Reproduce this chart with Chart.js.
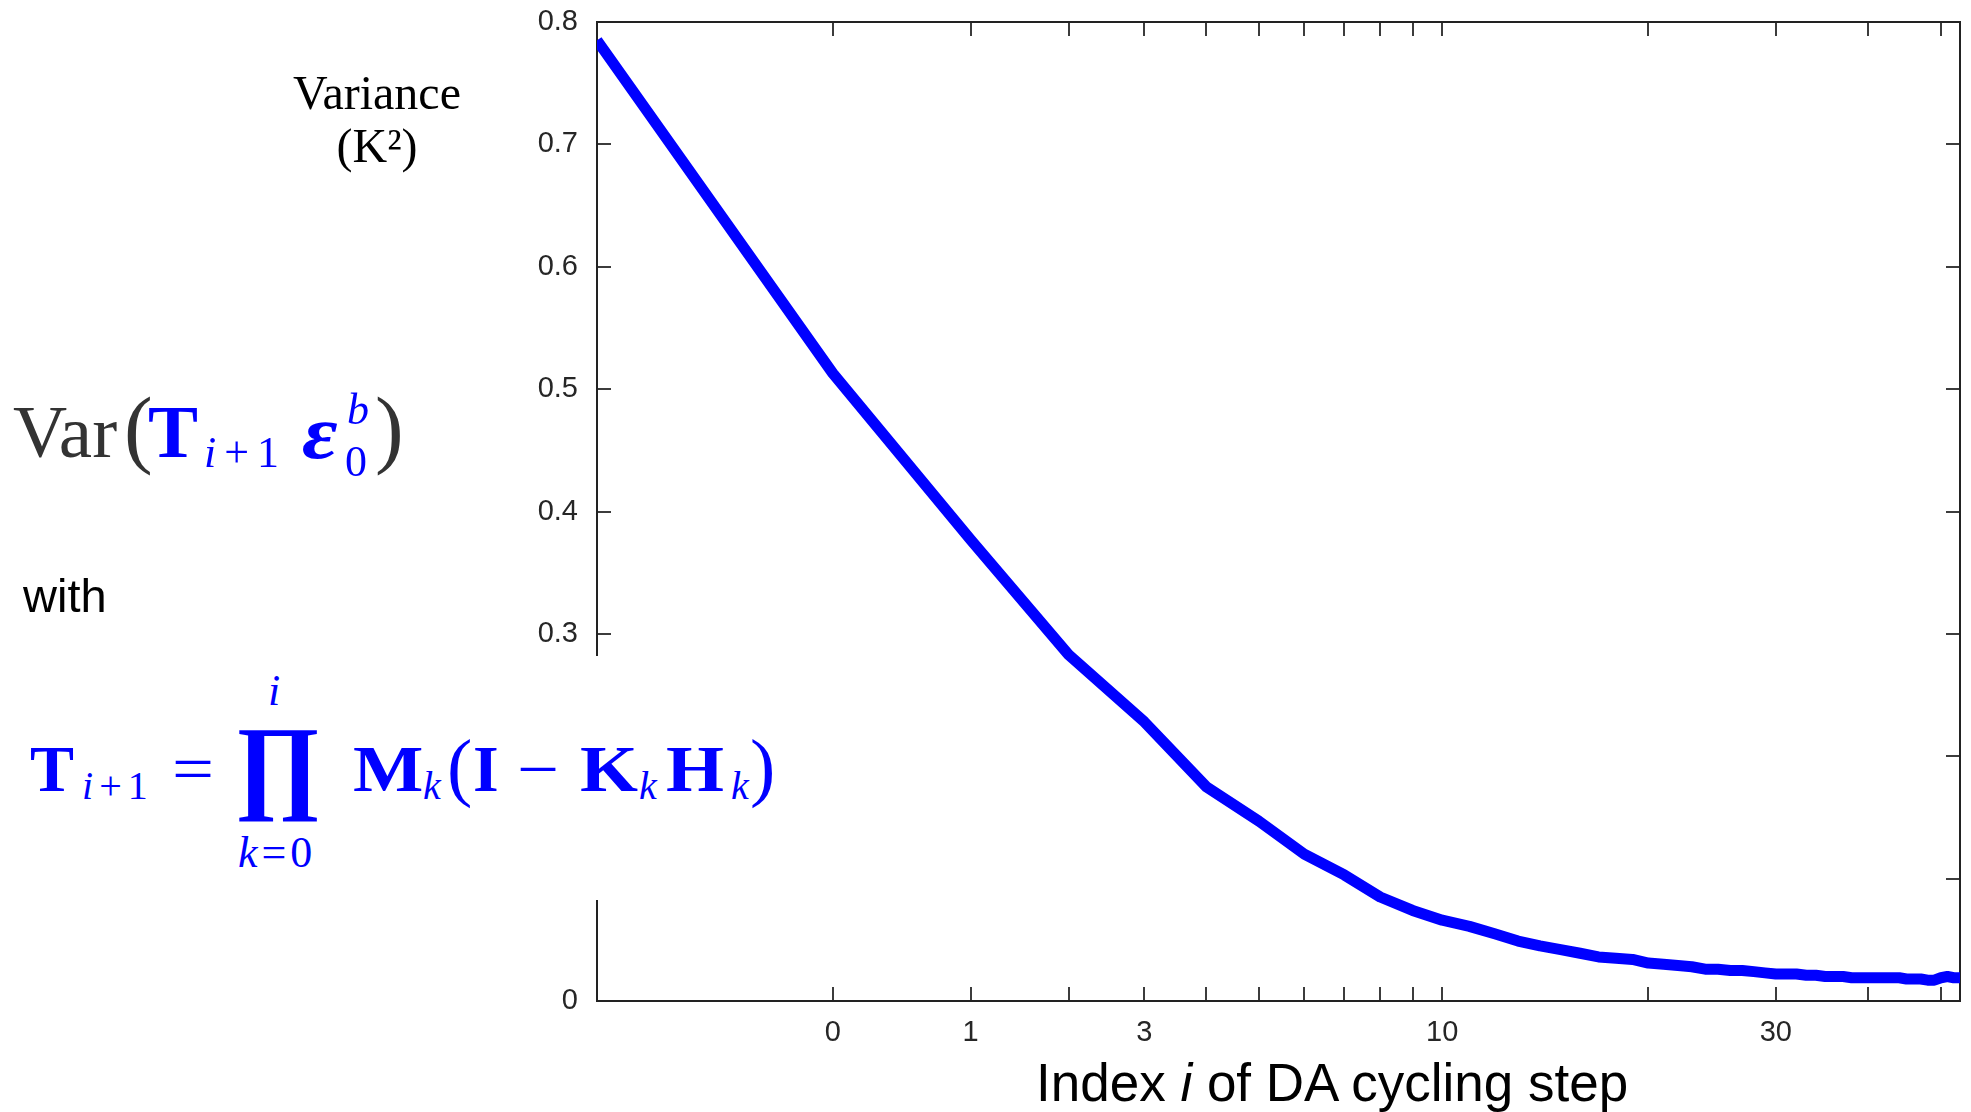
<!DOCTYPE html>
<html>
<head>
<meta charset="utf-8">
<script src="https://cdn.jsdelivr.net/npm/chart.js@4.4.1/dist/chart.umd.min.js"></script>
<style>
  body { margin: 0; background: #fff; }
  #wrap { position: relative; width: 1971px; height: 1112px; overflow: hidden; }
  .txt { position: absolute; white-space: nowrap; line-height: 1; }
  .serif { font-family: 'Liberation Serif', 'Times New Roman', serif; }
  .sans { font-family: 'Liberation Sans', Arial, sans-serif; }
  /* a formula line: the box sits on its baseline, pieces are placed from it */
  .eq { position: absolute; left: 0; height: 0; width: 0; font-family: 'Liberation Serif', 'Times New Roman', serif; }
  .eq span { position: absolute; white-space: nowrap; line-height: 1; }
  .wide { transform: scaleX(1.13); transform-origin: left center; }
  .blue { color: #0000ff; }
  .gray { color: #333; }
  #mask { position: absolute; left: 0; top: 656px; width: 775px; height: 244px; background: #fff; }
</style>
</head>
<body>
<div id="wrap">
  <canvas id="chart"></canvas>

  <div class="txt serif" style="left:277px; top:66px; width:200px; text-align:center; font-size:48px; line-height:53px;">Variance<br>(K²)</div>

  <!-- Var(T_{i+1} eps_0^b), baseline y = 457 -->
  <div class="eq" style="top:457px;">
    <span class="gray" style="left:13px; top:-63px; font-size:75px;">Var</span>
    <span class="gray" style="left:124px; top:-72px; font-size:86px;">(</span>
    <span class="blue" style="left:148px; top:-63px; font-size:75px; font-weight:bold;">T</span>
    <span class="blue" style="left:204px; top:-26px; font-size:44px;"><i>i</i><span style="position:static; padding:0 8px;">+</span>1</span>
    <span class="blue wide" style="left:302px; top:-63px; font-size:77px; font-weight:bold; font-style:italic;">ε</span>
    <span class="blue" style="left:347px; top:-69px; font-size:44px; font-style:italic;">b</span>
    <span class="blue" style="left:345px; top:-17px; font-size:44px;">0</span>
    <span class="gray" style="left:375px; top:-72px; font-size:86px;">)</span>
  </div>

  <div class="txt sans" style="left:23px; top:572px; font-size:47px;">with</div>

  <div id="mask"></div>
  <!-- T_{i+1} = prod_{k=0}^{i} M_k (I - K_k H_k), baseline y = 791 -->
  <div class="eq blue" style="top:791px;">
    <span style="left:30px; top:-55px; font-size:66px; font-weight:bold;">T</span>
    <span style="left:82px; top:-25px; font-size:40px;"><i>i</i><span style="position:static; padding:0 6px;">+</span>1</span>
    <span class="wide" style="left:172px; top:-55px; font-size:66px;">=</span>
    <span style="left:268px; top:-122px; font-size:44px; font-style:italic;">i</span>
    <span style="left:235px; top:-80px; font-size:105px; font-weight:bold;">∏</span>
    <span style="left:238px; top:40px; font-size:44px;"><i>k</i><span style="position:static; padding:0 4px;">=</span>0</span>
    <span class="wide" style="left:353px; top:-55px; font-size:66px; font-weight:bold;">M</span>
    <span style="left:423px; top:-25px; font-size:40px; font-style:italic;">k</span>
    <span style="left:447px; top:-63px; font-size:76px;">(</span>
    <span style="left:473px; top:-55px; font-size:66px; font-weight:bold;">I</span>
    <span class="wide" style="left:517px; top:-55px; font-size:66px;">−</span>
    <span class="wide" style="left:580px; top:-55px; font-size:66px; font-weight:bold;">K</span>
    <span style="left:639px; top:-25px; font-size:40px; font-style:italic;">k</span>
    <span class="wide" style="left:666px; top:-55px; font-size:66px; font-weight:bold;">H</span>
    <span style="left:731px; top:-25px; font-size:40px; font-style:italic;">k</span>
    <span style="left:750px; top:-63px; font-size:76px;">)</span>
  </div>

  <div class="txt sans" style="left:1036px; top:1056px; font-size:53px; color:#000;">Index <i>i</i> of DA cycling step</div>
</div>

<script>
// DA cycling step index i and variance (K^2)
const steps = [-1, 0, 1, 2, 3, 4, 5, 6, 7, 8, 9, 10,
  11, 12, 13, 14, 15, 16, 17, 18, 19, 20,
  21, 22, 23, 24, 25, 26, 27, 28, 29, 30,
  31, 32, 33, 34, 35, 36, 37, 38, 39, 40,
  41, 42, 43, 44, 45, 46, 47, 48, 49, 50,
  51, 52, 53];
const variance = [0.785, 0.513, 0.377, 0.283, 0.228, 0.175, 0.147, 0.120, 0.103, 0.085, 0.074, 0.066,
  0.061, 0.055, 0.049, 0.045, 0.042, 0.039, 0.036, 0.035, 0.034, 0.031,
  0.030, 0.029, 0.028, 0.026, 0.026, 0.025, 0.025, 0.024, 0.023, 0.022,
  0.022, 0.022, 0.021, 0.021, 0.020, 0.020, 0.020, 0.019, 0.019, 0.019,
  0.019, 0.019, 0.019, 0.019, 0.018, 0.018, 0.018, 0.017, 0.017, 0.019,
  0.020, 0.019, 0.019];

// x axis is log10(i + 2)
const xShift = 2;
const xTickSteps = [0, 1, 2, 3, 4, 5, 6, 7, 8, 9, 10, 20, 30, 40, 50];
const xLabelSteps = [0, 1, 3, 10, 30];
const yTickValues = [0, 0.1, 0.2, 0.3, 0.4, 0.5, 0.6, 0.7, 0.8];
// 0.1 and 0.2 sit under the formula in the original
const yTickLabels = ['0', '', '', '0.3', '0.4', '0.5', '0.6', '0.7', '0.8'];

const points = steps.map((s, k) => ({ x: s + xShift, y: variance[k] }));

// box round the plot with inward ticks on all four sides
const frameTicks = {
  id: 'frameTicks',
  beforeDatasetsDraw(chart) {
    const { ctx, chartArea: a, scales: { x, y } } = chart;
    const len = 14;
    ctx.save();
    ctx.lineWidth = 2;
    ctx.strokeStyle = '#3c3c3c';
    ctx.beginPath();
    x.ticks.forEach(t => {
      const px = Math.round(x.getPixelForValue(t.value));
      ctx.moveTo(px, a.bottom); ctx.lineTo(px, a.bottom - len);
      ctx.moveTo(px, a.top); ctx.lineTo(px, a.top + len);
    });
    y.ticks.forEach(t => {
      const py = Math.round(y.getPixelForValue(t.value));
      ctx.moveTo(a.left, py); ctx.lineTo(a.left + len, py);
      ctx.moveTo(a.right, py); ctx.lineTo(a.right - len, py);
    });
    ctx.stroke();
    ctx.strokeStyle = '#222';
    ctx.strokeRect(a.left, a.top, a.right - a.left, a.bottom - a.top);
    ctx.restore();
  }
};

const tickFont = { family: "'Liberation Sans', Arial, sans-serif", size: 29 };

const config = {
  type: 'line',
  data: {
    datasets: [{
      data: points,
      borderColor: '#0000ff',
      borderWidth: 11,
      pointRadius: 0,
      tension: 0,
      borderJoinStyle: 'round'
    }]
  },
  options: {
    responsive: true,
    maintainAspectRatio: false,
    animation: false,
    layout: { padding: { top: 22, right: 11, left: 0, bottom: 0 } },
    plugins: {
      legend: { display: false },
      tooltip: { enabled: false }
    },
    scales: {
      x: {
        type: 'logarithmic',
        min: 1,
        max: 55,
        grid: { display: false, drawTicks: false },
        border: { display: false },
        afterBuildTicks: scale => {
          scale.ticks = xTickSteps.map(s => ({ value: s + xShift }));
        },
        afterFit: scale => {
          scale.height = 111;
          scale.paddingLeft = 0;
          scale.paddingRight = 0;
        },
        ticks: {
          autoSkip: false,
          maxRotation: 0,
          padding: 15,
          color: '#262626',
          font: tickFont,
          callback: value => {
            const s = Math.round(value - xShift);
            return xLabelSteps.includes(s) ? String(s) : '';
          }
        }
      },
      y: {
        min: 0,
        max: 0.8,
        grid: { display: false, drawTicks: false },
        border: { display: false },
        afterBuildTicks: scale => {
          scale.ticks = yTickValues.map(v => ({ value: v }));
        },
        afterFit: scale => {
          scale.width = 597;
          scale.paddingTop = 0;
          scale.paddingBottom = 0;
        },
        ticks: {
          padding: 19,
          color: '#262626',
          font: tickFont,
          callback: (value, index) => yTickLabels[index]
        }
      }
    }
  },
  plugins: [frameTicks]
};

const canvas = document.getElementById('chart');
canvas.style.width = '1971px';
canvas.style.height = '1112px';
let varianceChart = new Chart(canvas, config);
</script>
</body>
</html>
